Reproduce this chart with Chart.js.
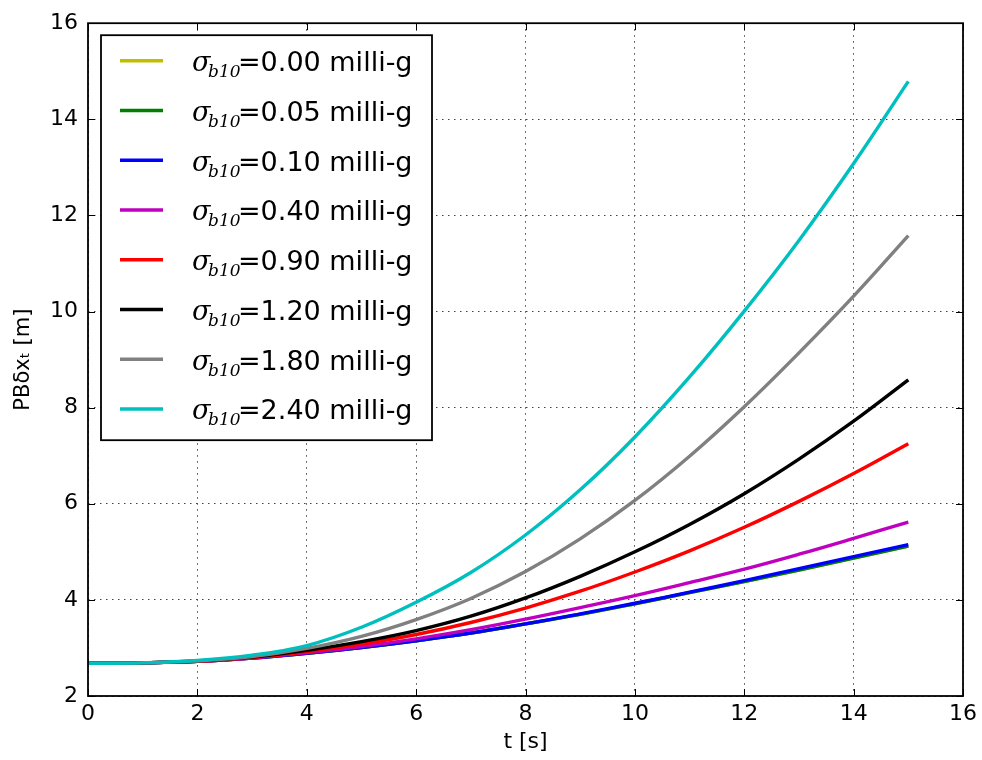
<!DOCTYPE html>
<html><head><meta charset="utf-8">
<script src="https://cdn.jsdelivr.net/npm/chart.js@4.4.1/dist/chart.umd.min.js"></script>
<style>html,body{margin:0;padding:0;background:#fff;}#wrap{width:982px;height:760px;}</style>
</head><body><div id="wrap"><canvas id="c" width="982" height="760"></canvas></div>
<script>
// ---- data ----
const timeS = [0,1,2,3,4,5,6,7,8,9,10,11,12,13,14,15];
const xTicks = [0,2,4,6,8,10,12,14,16];
const yTicks = [2,4,6,8,10,12,14,16];
const sigmaValues = ['0.00','0.05','0.10','0.40','0.90','1.20','1.80','2.40'];
const seriesColors = ['#bfbf00','#008000','#0000ff','#bf00bf','#ff0000','#000000','#808080','#00bfbf'];
const sig000 = [2.68,2.69,2.72,2.79,2.89,3.01,3.15,3.31,3.50,3.70,3.92,4.15,4.38,4.62,4.87,5.12];
const sig005 = [2.68,2.69,2.72,2.79,2.89,3.01,3.15,3.31,3.50,3.70,3.92,4.15,4.38,4.62,4.87,5.12];
const sig010 = [2.68,2.69,2.72,2.79,2.89,3.01,3.15,3.31,3.50,3.71,3.93,4.16,4.40,4.65,4.90,5.15];
const sig040 = [2.68,2.69,2.72,2.79,2.90,3.03,3.19,3.38,3.60,3.84,4.09,4.36,4.64,4.95,5.28,5.62];
const sig090 = [2.68,2.69,2.72,2.80,2.92,3.08,3.28,3.53,3.83,4.18,4.58,5.02,5.51,6.05,6.63,7.25];
const sig120 = [2.68,2.69,2.73,2.81,2.95,3.13,3.36,3.66,4.04,4.49,5.00,5.57,6.21,6.93,7.72,8.58];
const sig180 = [2.68,2.69,2.73,2.82,2.99,3.24,3.59,4.03,4.59,5.27,6.07,6.99,8.02,9.14,10.32,11.58];
const sig240 = [2.68,2.69,2.74,2.85,3.05,3.43,3.95,4.57,5.35,6.29,7.39,8.64,10.01,11.48,13.08,14.79];
const seriesValues = [sig000,sig005,sig010,sig040,sig090,sig120,sig180,sig240];

const FONT = '"DejaVu Sans", sans-serif';
const SERIF = '"DejaVu Serif", serif';

const datasets = seriesValues.map((vals,i)=>({
  label: 'σb10=' + sigmaValues[i] + ' milli-g',
  data: timeS.map((t,k)=>({x:t, y:vals[k]})),
  borderColor: seriesColors[i],
  backgroundColor: seriesColors[i],
  borderWidth: 3.4,
  pointRadius: 0,
  fill: false,
  tension: 0.4,
  order: seriesValues.length - 1 - i
}));

const framePlugin = {
  id: 'frame',
  afterDatasetsDraw(chart){
    const {ctx, chartArea:a, scales:{x,y}} = chart;
    ctx.save();
    ctx.strokeStyle = '#000'; ctx.lineWidth = 1;
    const L = 7;
    ctx.beginPath();
    xTicks.forEach(v=>{const p=Math.round(x.getPixelForValue(v))+0.5;
      ctx.moveTo(p,a.bottom); ctx.lineTo(p,a.bottom-L);
      ctx.moveTo(p,a.top); ctx.lineTo(p,a.top+L);});
    yTicks.forEach(v=>{const p=Math.round(y.getPixelForValue(v))+0.5;
      ctx.moveTo(a.left,p); ctx.lineTo(a.left+L,p);
      ctx.moveTo(a.right,p); ctx.lineTo(a.right-L,p);});
    ctx.stroke();
    ctx.lineWidth = 1.8;
    ctx.strokeRect(a.left, a.top, a.right-a.left, a.bottom-a.top);
    ctx.restore();
  }
};

const legendPlugin = {
  id: 'mplLegend',
  afterDraw(chart){
    const {ctx, chartArea:a} = chart;
    const bx = a.left+13, by = a.top+12, bw = 331, bh = 405;
    ctx.save();
    ctx.fillStyle = '#fff';
    ctx.fillRect(bx,by,bw,bh);
    ctx.strokeStyle = '#000'; ctx.lineWidth = 1.8;
    ctx.strokeRect(bx,by,bw,bh);
    chart.data.datasets.forEach((ds,i)=>{
      const ry = by + 25.5 + i*49.75;
      ctx.strokeStyle = ds.borderColor; ctx.lineWidth = 3.4;
      ctx.beginPath(); ctx.moveTo(bx+19, ry); ctx.lineTo(bx+62, ry); ctx.stroke();
      ctx.fillStyle = '#000';
      ctx.textBaseline = 'alphabetic'; ctx.textAlign = 'left';
      const base = ry + 10.5;
      ctx.font = 'italic 27px ' + SERIF;
      ctx.fillText('σ', bx + 91, base);
      ctx.font = 'italic 17px ' + SERIF;
      ctx.fillText('b10', bx + 107, base + 6);
      ctx.font = '27px ' + FONT;
      ctx.fillText('=' + sigmaValues[i] + ' milli-g', bx + 137, base);
    });
    ctx.restore();
  }
};

new Chart(document.getElementById('c'), {
  type: 'line',
  data: { datasets },
  plugins: [framePlugin, legendPlugin],
  options: {
    responsive: false,
    animation: false,
    layout: { padding: { top: 19, right: 15, left: 0, bottom: 0 } },
    plugins: { legend: { display: false }, tooltip: { enabled: false } },
    scales: {
      x: {
        type: 'linear', min: 0, max: 16,
        afterBuildTicks(s){ s.ticks = xTicks.map(v=>({value:v})); },
        afterFit(s){ s.height = 64; },
        ticks: { color: '#000', font: { family: FONT, size: 22 }, padding: 5 },
        grid: { color: '#444', lineWidth: 1, drawTicks: false },
        border: { display: false, dash: [1.5, 4.5] },
        title: { display: true, text: 't [s]', color: '#000', font: { family: FONT, size: 22 }, padding: { top: 0, bottom: 5 } }
      },
      y: {
        type: 'linear', min: 2, max: 16,
        afterBuildTicks(s){ s.ticks = yTicks.map(v=>({value:v})); },
        afterFit(s){ s.width = 88; },
        ticks: { color: '#000', font: { family: FONT, size: 22 }, padding: 10 },
        grid: { color: '#444', lineWidth: 1, drawTicks: false },
        border: { display: false, dash: [1.5, 4.5] },
        title: { display: true, text: 'PBδxₜ [m]', color: '#000', font: { family: FONT, size: 21 }, padding: { top: 11, bottom: 0 } }
      }
    }
  }
});
</script></body></html>
